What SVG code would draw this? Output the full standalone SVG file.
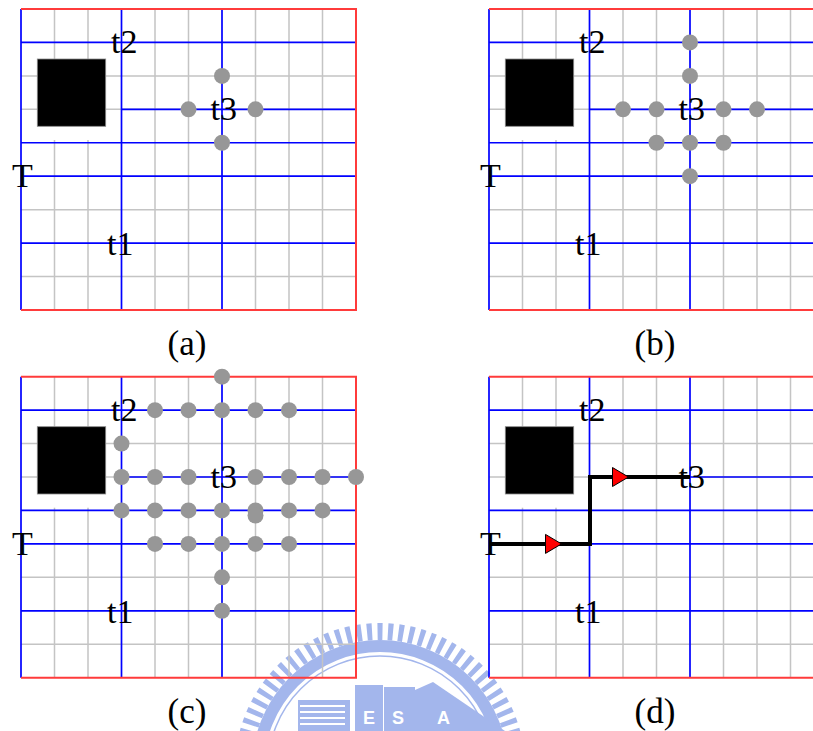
<svg xmlns="http://www.w3.org/2000/svg" width="813" height="731" viewBox="0 0 813 731">
<style>
.gray{stroke:#c4c4c4;stroke-width:1.5;fill:none}
.blue{stroke:#0000ff;stroke-width:1.7;fill:none}
.red{stroke:#ff3b3b;stroke-width:2;fill:none}
.dot{fill:#979797}
.lbl{font-family:"Liberation Serif","Times New Roman",serif;font-size:34px;fill:#000}
.cap{font-family:"Liberation Serif","Times New Roman",serif;font-size:35px;fill:#000;text-anchor:middle}
.wm{fill:#a3b6ec}
.wmt{font-family:"Liberation Sans",Arial,sans-serif;font-size:18px;fill:#ffffff;font-weight:bold}
</style>
<defs>
<g id="grid">
<path class="gray" d="M54.5 9V310M88 9V310M155 9V310M188.5 9V310M255.5 9V310M289 9V310M322.5 9V310M21 75.88H356M21 109.32H356M21 209.64H356M21 276.52H356"/>
<path class="blue" d="M121.5 9V310M222 9V310M21 42.44H356M121.5 109.32H356M21 142.76H356M21 176.2H356M21 243.08H356M21 9V310"/>
<path class="red" d="M21 9H356V310H21"/>
<rect x="37.3" y="59" width="68.4" height="81" fill="#fff"/>
<rect x="37.3" y="59" width="68.4" height="67.3" fill="#000" stroke="#8a8a8a" stroke-width="0.8"/>
</g>
<g id="labels">
<text class="lbl" x="111" y="53">t2</text>
<text class="lbl" x="12" y="187">T</text>
<text class="lbl" x="107" y="255">t1</text>
</g>
<polygon id="arr" points="-8,-9.5 8,0 -8,9.5" fill="#ff0000" stroke="#000" stroke-width="1"/>
</defs>

<g id="watermark">
<circle cx="380" cy="768" r="136.5" fill="none" stroke="#a3b6ec" stroke-width="17" stroke-dasharray="5 5.5"/>
<circle cx="380" cy="768" r="122" fill="none" stroke="#a3b6ec" stroke-width="12"/>
<circle cx="380" cy="768" r="112" fill="none" stroke="#a3b6ec" stroke-width="1.5"/>
<rect class="wm" x="298" y="700" width="52" height="31"/>
<path d="M300 706H345M300 712H345M300 718H345M300 724H345" stroke="#fff" stroke-width="2"/>
<rect class="wm" x="355" y="685" width="28" height="46"/>
<rect class="wm" x="384" y="687" width="31" height="44"/>
<polygon class="wm" points="415,731 415,690 433,682 505,731"/>
<text class="wmt" x="363" y="724">E</text>
<text class="wmt" x="392" y="724">S</text>
<text class="wmt" x="437" y="724">A</text>
</g>

<g id="panel-a">
<use href="#grid"/>
<use href="#labels"/>
<g id="nodes-a" class="dot">
<circle cx="222" cy="75.88" r="8"/>
<circle cx="188.5" cy="109.32" r="8"/>
<circle cx="255.5" cy="109.32" r="8"/>
<circle cx="222" cy="142.76" r="8"/>
</g>
<text class="lbl" x="210.5" y="120">t3</text>
<text class="cap" x="187" y="355">(a)</text>
</g>

<g id="panel-b" transform="translate(468,0)">
<use href="#grid"/>
<use href="#labels"/>
<g id="nodes-b" class="dot">
<circle cx="222" cy="42.44" r="8"/>
<circle cx="222" cy="75.88" r="8"/>
<circle cx="155" cy="109.32" r="8"/>
<circle cx="188.5" cy="109.32" r="8"/>
<circle cx="255.5" cy="109.32" r="8"/>
<circle cx="289" cy="109.32" r="8"/>
<circle cx="188.5" cy="142.76" r="8"/>
<circle cx="222" cy="142.76" r="8"/>
<circle cx="255.5" cy="142.76" r="8"/>
<circle cx="222" cy="176.2" r="8"/>
</g>
<text class="lbl" x="210.5" y="120">t3</text>
<text class="cap" x="187" y="355">(b)</text>
</g>

<g id="panel-c" transform="translate(0,367.7)">
<use href="#grid"/>
<use href="#labels"/>
<g id="nodes-c" class="dot">
<circle cx="222" cy="9" r="8"/>
<circle cx="155" cy="42.44" r="8"/>
<circle cx="188.5" cy="42.44" r="8"/>
<circle cx="222" cy="42.44" r="8"/>
<circle cx="255.5" cy="42.44" r="8"/>
<circle cx="289" cy="42.44" r="8"/>
<circle cx="121.5" cy="75.88" r="8"/>
<circle cx="121.5" cy="109.32" r="8"/>
<circle cx="155" cy="109.32" r="8"/>
<circle cx="188.5" cy="109.32" r="8"/>
<circle cx="255.5" cy="109.32" r="8"/>
<circle cx="289" cy="109.32" r="8"/>
<circle cx="322.5" cy="109.32" r="8"/>
<circle cx="356" cy="109.32" r="8"/>
<circle cx="121.5" cy="142.76" r="8"/>
<circle cx="155" cy="142.76" r="8"/>
<circle cx="188.5" cy="142.76" r="8"/>
<circle cx="222" cy="142.76" r="8"/>
<circle cx="255.5" cy="142.76" r="8"/>
<circle cx="255.5" cy="147.8" r="8"/>
<circle cx="289" cy="142.76" r="8"/>
<circle cx="322.5" cy="142.76" r="8"/>
<circle cx="155" cy="176.2" r="8"/>
<circle cx="188.5" cy="176.2" r="8"/>
<circle cx="222" cy="176.2" r="8"/>
<circle cx="255.5" cy="176.2" r="8"/>
<circle cx="289" cy="176.2" r="8"/>
<circle cx="222" cy="209.64" r="8"/>
<circle cx="222" cy="243.08" r="8"/>
</g>
<text class="lbl" x="210.5" y="120">t3</text>
<text class="cap" x="187" y="355">(c)</text>
</g>

<g id="panel-d" transform="translate(468,367.7)">
<use href="#grid"/>
<use href="#labels"/>
<g id="connectors">
<path d="M21 176.2H122V109.32H222" fill="none" stroke="#000" stroke-width="4" stroke-linejoin="miter"/>
<use href="#arr" transform="translate(85.5,176.2)"/>
<use href="#arr" transform="translate(152.5,109.32)"/>
</g>
<text class="lbl" x="210.5" y="120">t3</text>
<text class="cap" x="187" y="355">(d)</text>
</g>
</svg>
